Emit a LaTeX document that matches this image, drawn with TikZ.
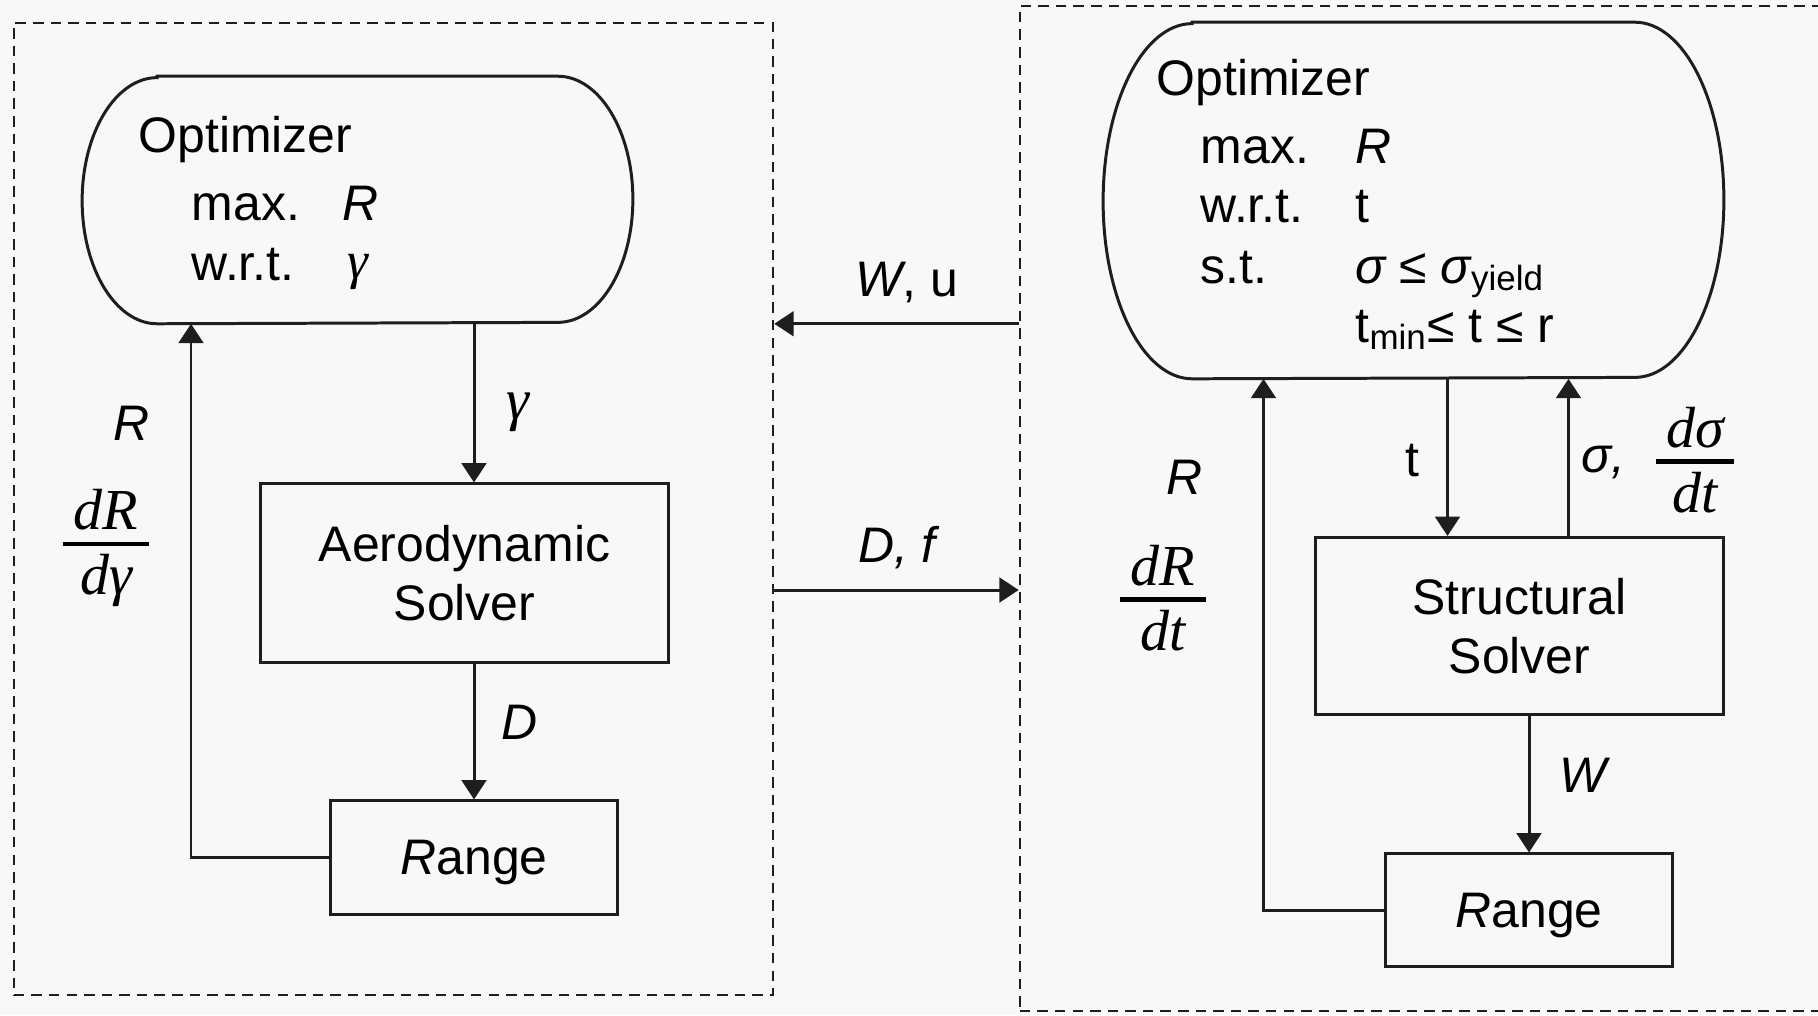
\documentclass[tikz,border=0pt]{standalone}
\usepackage{fontspec}
\setmainfont{Liberation Sans}
\newfontfamily\tms{Liberation Serif}
\usetikzlibrary{arrows.meta}
\definecolor{bgc}{RGB}{248,248,248}
\definecolor{ink}{RGB}{30,30,30}
\newcommand{\vfrac}[2]{{\tms\itshape\setlength{\arrayrulewidth}{1.3pt}\begin{tabular}{@{\hspace{3pt}}c@{\hspace{3pt}}}#1\\[-2.5pt]\hline #2\end{tabular}}}
\begin{document}
\begin{tikzpicture}[x=0.01cm,y=-0.01cm,
  ln/.style={line width=0.85pt, draw=ink},
  arr/.style={ln, -{Triangle[length=5.5pt,width=7pt]}},
  blk/.style={draw=ink, line width=0.85pt, inner sep=0pt, align=center, font=\fontsize{14.2}{16.8}\selectfont},
  rblk/.style={blk, text depth=0pt},
  grp/.style={draw=ink, line width=0.6pt, dash pattern=on 3pt off 2pt, inner sep=0pt},
  txt/.style={inner sep=0pt, anchor=base west, font=\fontsize{14.2}{16.8}\selectfont},
  lbl/.style={inner sep=0pt, font=\fontsize{14.2}{16.8}\selectfont},
  frc/.style={inner sep=0pt, font=\fontsize{16.5}{19.6}\selectfont},
  opt/.style={inner sep=0pt, draw=none}]
\clip (0,0) rectangle (1818,1015);
\fill[bgc] (0,0) rectangle (1818,1015);

% group boxes
\node[grp, minimum width=7.59cm, minimum height=9.72cm] (box1) at (393.5,509) {};
\node[grp, minimum width=8.3cm, minimum height=10.05cm] (box2) at (1435,508.5) {};

% optimizers
\node[opt, minimum width=5.49cm, minimum height=2.46cm] (opt1) at (357.5,200) {};
\draw[ln] ([xshift=0.75cm]opt1.north west) -- ([xshift=-0.75cm]opt1.north east)
  arc[start angle=90,end angle=-90,x radius=0.75cm,y radius=1.23cm]
  -- ([xshift=0.75cm]opt1.south west)
  arc[start angle=270,end angle=90,x radius=0.75cm,y radius=1.23cm] -- cycle;
\node[opt, minimum width=6.19cm, minimum height=3.55cm] (opt2) at (1413.5,200.5) {};
\draw[ln] ([xshift=0.89cm]opt2.north west) -- ([xshift=-0.89cm]opt2.north east)
  arc[start angle=90,end angle=-90,x radius=0.89cm,y radius=1.775cm]
  -- ([xshift=0.89cm]opt2.south west)
  arc[start angle=270,end angle=90,x radius=0.89cm,y radius=1.775cm] -- cycle;

% optimizer texts
\node[txt] (o1t) at (138,152) {Optimizer};
\node[txt] (o1m) at (191,220) {max.};
\node[txt] (o1mv) at (342,220) {\itshape R};
\node[txt] (o1w) at (191,280) {w.r.t.};
\node[txt, font=\fontsize{15}{18}\selectfont] (o1wv) at (347,278) {\tms\itshape γ};

\node[txt] (o2t) at (1156,95) {Optimizer};
\node[txt] (o2m) at (1200,163) {max.};
\node[txt] (o2mv) at (1355,163) {\itshape R};
\node[txt] (o2w) at (1200,222) {w.r.t.};
\node[txt] (o2wv) at (1355,222) {t};
\node[txt] (o2s) at (1200,283) {s.t.};
\node[txt] (o2sv) at (1355,283) {{\itshape σ} ≤ {\itshape σ}\textsubscript{yield}};
\node[txt] (o2c) at (1355,342) {t\textsubscript{min}≤ t ≤ r};

% blocks
\node[blk, minimum width=4.07cm, minimum height=1.78cm] (aero) at (464.5,573) {Aerodynamic\\Solver};
\node[rblk, minimum width=2.87cm, minimum height=1.13cm] (rng1) at (474,857.5) {{\itshape R}ange};
\node[blk, minimum width=4.08cm, minimum height=1.77cm] (struct) at (1519.5,626) {Structural\\Solver};
\node[rblk, minimum width=2.87cm, minimum height=1.12cm] (rng2) at (1529,910) {{\itshape R}ange};

% column helpers
\coordinate (xfb1) at (191,0);
\coordinate (xt) at (1447.5,0);
\coordinate (xs) at (1568.5,0);
\coordinate (xfb2) at (1263.5,0);
\coordinate (ydf) at (0,590);

% connectors
\draw[arr] (opt1.south -| rng1.north) -- (aero.north -| rng1.north);
\draw[arr] (aero.south -| rng1.north) -- (rng1.north);
\draw[arr] (rng1.west) -| (opt1.south -| xfb1);
\draw[arr] (box2.west |- opt1.south) -- (box1.east |- opt1.south);
\draw[arr] (box1.east |- ydf) -- (box2.west |- ydf);
\draw[arr] (opt2.south -| xt) -- (struct.north -| xt);
\draw[arr] (struct.north -| xs) -- (opt2.south -| xs);
\draw[arr] (struct.south -| rng2.north) -- (rng2.north);
\draw[arr] (rng2.west) -| (opt2.south -| xfb2);

% labels
\node[lbl] (lR1) at (131.5,423) {\itshape R};
\node[frc] (lf1) at (106,548.5) {\vfrac{dR}{dγ}};
\node[frc] (lg) at (518,412) {\tms\itshape γ};
\node[lbl] (lD) at (520,722) {\itshape D};
\node[lbl] (lWu) at (906.5,283) {{\itshape W}, u};
\node[lbl] (lDf) at (897,548) {\itshape D, f};
\node[lbl] (lR2) at (1185,477) {\itshape R};
\node[frc] (lf2) at (1163,604) {\vfrac{dR}{dt}};
\node[lbl] (lt) at (1412,461) {t};
\node[lbl] (ls) at (1603,462) {\itshape σ,};
\node[frc] (lf3) at (1695,466) {\vfrac{dσ}{dt}};
\node[lbl] (lW) at (1583,775) {\itshape W};
\end{tikzpicture}
\end{document}
